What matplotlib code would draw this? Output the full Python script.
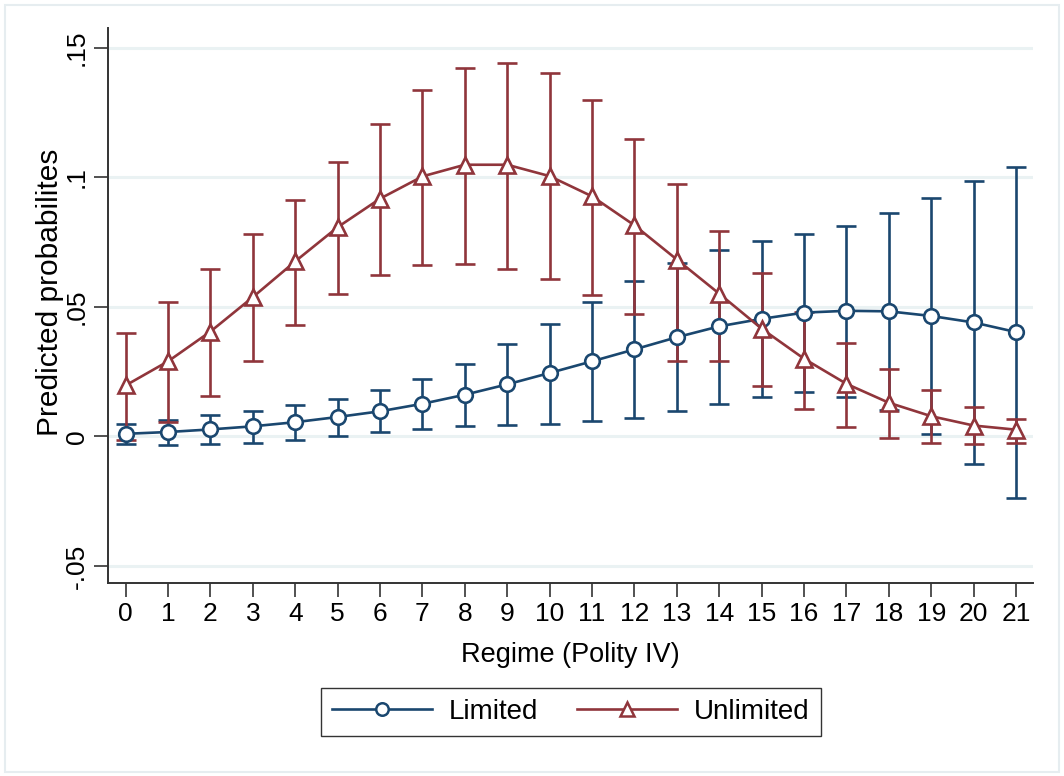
import matplotlib
matplotlib.use("Agg")
import matplotlib.pyplot as plt
from matplotlib.patches import Rectangle
from matplotlib.lines import Line2D

plt.rcParams['font.family'] = ['Liberation Sans', 'DejaVu Sans']

regime = list(range(22))
x_ticklabels = [str(i) for i in regime]

limited = [0.0010, 0.0017, 0.0027, 0.0039, 0.0055, 0.0075, 0.0097, 0.0126, 0.0161, 0.0201,
           0.0245, 0.0290, 0.0336, 0.0383, 0.0425, 0.0454, 0.0478, 0.0485, 0.0483, 0.0465,
           0.0440, 0.0403]
limited_hi = [0.0049, 0.0064, 0.0084, 0.0100, 0.0122, 0.0144, 0.0178, 0.0221, 0.0281, 0.0355,
              0.0435, 0.0519, 0.0600, 0.0669, 0.0718, 0.0755, 0.0782, 0.0813, 0.0861, 0.0920,
              0.0985, 0.1042]
limited_lo = [-0.0028, -0.0032, -0.0030, -0.0024, -0.0013, 0.0000, 0.0017, 0.0030, 0.0039, 0.0044,
              0.0049, 0.0058, 0.0072, 0.0097, 0.0126, 0.0154, 0.0171, 0.0154, 0.0103, 0.0010,
              -0.0108, -0.0237]

unlimited = [0.0197, 0.0290, 0.0405, 0.0538, 0.0676, 0.0808, 0.0918, 0.1004, 0.1049, 0.1049,
             0.1005, 0.0927, 0.0815, 0.0683, 0.0551, 0.0416, 0.0300, 0.0203, 0.0130, 0.0078,
             0.0042, 0.0026]
unlimited_hi = [0.0398, 0.0519, 0.0647, 0.0780, 0.0914, 0.1060, 0.1208, 0.1338, 0.1422, 0.1443,
                0.1403, 0.1299, 0.1149, 0.0974, 0.0794, 0.0631, 0.0480, 0.0362, 0.0259, 0.0178,
                0.0113, 0.0069]
unlimited_lo = [-0.0015, 0.0055, 0.0156, 0.0290, 0.0431, 0.0548, 0.0624, 0.0663, 0.0667, 0.0645,
                0.0606, 0.0547, 0.0474, 0.0293, 0.0293, 0.0194, 0.0107, 0.0037, -0.0005, -0.0026,
                -0.0031, -0.0027]

y_ticks = [-0.05, 0, 0.05, 0.1, 0.15]
y_ticklabels = ['-.05', '0', '.05', '.1', '.15']

BLUE = '#1a476f'
RED = '#90353b'
GRID = '#eaf2f3'

fig = plt.figure(figsize=(10.64, 7.76), dpi=100)
fig.patch.set_facecolor('white')
# outer frame
fig.patches.append(Rectangle((5 / 1064, 4 / 776), 1054 / 1064, 767 / 776,
                             transform=fig.transFigure, fill=False,
                             edgecolor='#e6edf0', linewidth=1.5))

ax = fig.add_axes([108 / 1064, 1 - 583 / 776, (1033 - 108) / 1064, (583 - 28) / 776])
ax.set_xlim(-0.417, 21.4)
ax.set_ylim(-0.0566, 0.1577)

for yt in y_ticks:
    ax.axhline(yt, color=GRID, linewidth=2.2, zorder=0)

capsize = 7.5
lw = 1.9
ax.errorbar(regime, limited, yerr=[[m - l for m, l in zip(limited, limited_lo)],
                                   [h - m for m, h in zip(limited, limited_hi)]],
            fmt='none', ecolor=BLUE, elinewidth=lw, capsize=capsize, capthick=lw, zorder=2)
ax.errorbar(regime, unlimited, yerr=[[m - l for m, l in zip(unlimited, unlimited_lo)],
                                     [h - m for m, h in zip(unlimited, unlimited_hi)]],
            fmt='none', ecolor=RED, elinewidth=lw, capsize=capsize, capthick=lw, zorder=3)
ax.plot(regime, limited, color=BLUE, linewidth=lw, marker='o', markersize=10.5,
        markerfacecolor='white', markeredgecolor=BLUE, markeredgewidth=1.9, zorder=4)
ax.plot(regime, unlimited, color=RED, linewidth=lw, marker='^', markersize=11.5,
        markerfacecolor='white', markeredgecolor=RED, markeredgewidth=1.9, zorder=5)

ax.set_xticks(regime)
ax.set_xticklabels(x_ticklabels, fontsize=19)
ax.set_yticks(y_ticks)
ax.set_yticklabels(y_ticklabels, fontsize=19, rotation=90, va='center')
ax.tick_params(axis='both', direction='out', length=10, width=1.2, color='#333333', pad=4)

for s in ['top', 'right']:
    ax.spines[s].set_visible(False)
for s in ['left', 'bottom']:
    ax.spines[s].set_color('#333333')
    ax.spines[s].set_linewidth(1.4)

ax.set_xlabel('Regime (Polity IV)', fontsize=19.5, labelpad=11)
ax.set_ylabel('Predicted probabilites', fontsize=21.5)
ax.yaxis.set_label_coords((50 - 108) / 925, (583 - 292) / 555)
ax.yaxis.label.set_verticalalignment('center')

handles = [
    Line2D([0], [0], color=BLUE, linewidth=lw, marker='o', markersize=9,
           markerfacecolor='white', markeredgecolor=BLUE, markeredgewidth=1.8),
    Line2D([0], [0], color=RED, linewidth=lw, marker='^', markersize=10,
           markerfacecolor='white', markeredgecolor=RED, markeredgewidth=1.8),
]
leg = fig.legend(handles, ['Limited', 'Unlimited'], loc='center',
                 bbox_to_anchor=(571 / 1064, 1 - 712 / 776), ncol=2, fontsize=20,
                 frameon=True, fancybox=False, edgecolor='black', handlelength=3.6,
                 columnspacing=1.4, handletextpad=0.6, borderpad=0.4)
leg.get_frame().set_linewidth(1.0)

fig.savefig('out.png', dpi=100, facecolor='white')
